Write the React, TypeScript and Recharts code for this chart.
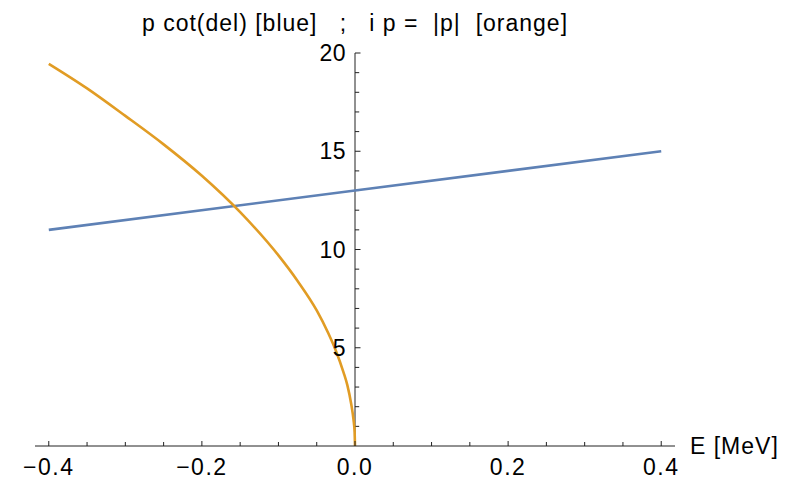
import { ComposedChart, Line, XAxis, YAxis, ReferenceLine, ReferenceDot } from 'recharts';

// orange curve: i p = |p|
const orangeE = [-0.4, -0.35, -0.3, -0.25, -0.2, -0.15, -0.1, -0.075, -0.05, -0.035, -0.025, -0.015, -0.01, -0.005, -0.002, -0.0005, 0];
const orangeP = [19.45, 18.2, 16.8, 15.35, 13.75, 11.9, 9.7, 8.4, 6.9, 5.75, 4.85, 3.75, 3.1, 2.15, 1.35, 0.7, 0];

// blue line: p cot(del)
const blueE = [-0.4, 0, 0.4];
const blueV = [11, 13, 15];

const xTicks = [-0.4, -0.35, -0.3, -0.25, -0.2, -0.15, -0.1, -0.05, 0, 0.05, 0.1, 0.15, 0.2, 0.25, 0.3, 0.35, 0.4];
const yTicks = [1, 2, 3, 4, 5, 6, 7, 8, 9, 10, 11, 12, 13, 14, 15, 16, 17, 18, 19, 20];
const yLabels = [5, 10, 15, 20];

const title = 'p cot(del) [blue]\u00A0\u00A0\u00A0;\u00A0\u00A0\u00A0i p =\u00A0\u00A0|p|\u00A0\u00A0[orange]';

const orangeData = orangeE.map((e, i) => ({ E: e, v: orangeP[i] }));
const blueData = blueE.map((e, i) => ({ E: e, v: blueV[i] }));

const axisColor = '#222';
const fontSize = 23;

const fmt = (v: number) => v.toFixed(1).replace('-', '\u2212');
const isMajor = (v: number) => Math.abs(v * 5 - Math.round(v * 5)) < 1e-6;

const XTick = (props: any) => {
  const { x, y, payload } = props;
  const v = payload.value;
  const major = isMajor(v);
  return (
    <g>
      <line x1={x} x2={x} y1={y} y2={y - (major ? 5 : 4)} stroke={axisColor} />
      {major && (
        <text x={x} y={y + 28.5} textAnchor="middle" fontSize={fontSize} letterSpacing={1.5} fill="#000">
          {fmt(v)}
        </text>
      )}
    </g>
  );
};

export default function App() {
  return (
    <div style={{ position: 'absolute', left: 0, top: 0, width: 800, height: 479, background: '#fff', fontFamily: '"Liberation Sans", Arial, sans-serif' }}>
      <ComposedChart width={800} height={479} margin={{ top: 53, right: 125, bottom: 0, left: 35 }}>
        <XAxis
          type="number"
          dataKey="E"
          domain={[-0.418, 0.418]}
          allowDataOverflow
          ticks={xTicks}
          interval={0}
          height={33}
          tickSize={0}
          tickMargin={0}
          tickLine={false}
          axisLine={{ stroke: axisColor }}
          tick={<XTick />}
        />
        <YAxis type="number" domain={[0, 20]} hide allowDataOverflow />

        {/* y axis drawn through E = 0 */}
        <ReferenceLine x={0} stroke={axisColor} ifOverflow="visible" />
        {yTicks.map((t) => (
          <ReferenceLine
            key={'yt' + t}
            segment={[{ x: 0, y: t }, { x: t % 5 === 0 ? 0.0072 : 0.0055, y: t }]}
            stroke={axisColor}
            ifOverflow="visible"
          />
        ))}
        {yLabels.map((t) => (
          <ReferenceDot
            key={'yl' + t}
            x={0}
            y={t}
            r={0}
            fill="none"
            stroke="none"
            ifOverflow="visible"
            label={{ value: String(t), position: 'left', offset: 9, fontSize, letterSpacing: 0.5, fill: '#000' }}
          />
        ))}
        <ReferenceDot
          x={0}
          y={20}
          r={0}
          fill="none"
          stroke="none"
          ifOverflow="visible"
          label={{ value: title, position: 'top', offset: 22, fontSize, letterSpacing: 1, fill: '#000' }}
        />
        <ReferenceDot
          x={0.418}
          y={0}
          r={0}
          fill="none"
          stroke="none"
          ifOverflow="visible"
          label={{ value: 'E [MeV]', position: 'right', offset: 15, fontSize, letterSpacing: 1, fill: '#000' }}
        />

        <Line data={blueData} dataKey="v" type="linear" stroke="#5E81B5" strokeWidth={2.6} dot={false} isAnimationActive={false} />
        <Line data={orangeData} dataKey="v" type="monotone" stroke="#E19C24" strokeWidth={2.6} dot={false} isAnimationActive={false} />
      </ComposedChart>
    </div>
  );
}
